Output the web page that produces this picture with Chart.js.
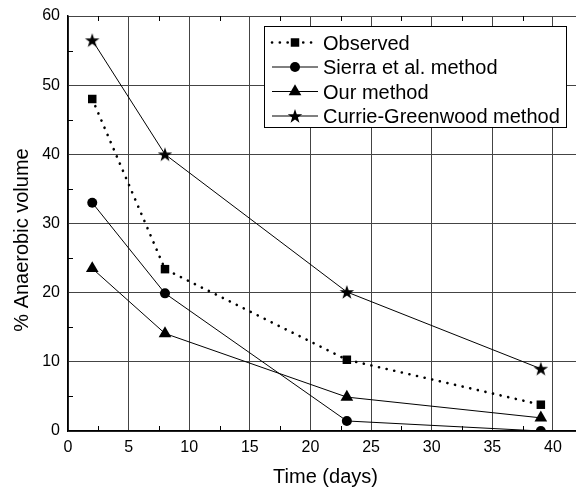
<!DOCTYPE html>
<html>
<head>
<meta charset="utf-8">
<script src="https://cdn.jsdelivr.net/npm/chart.js@4/dist/chart.umd.min.js"></script>
<style>
  html, body { margin: 0; padding: 0; background: #fff; }
  #wrap { width: 576px; height: 491px; }
</style>
</head>
<body>
<div id="wrap"><canvas id="chart" width="576" height="491"></canvas></div>
<script>
// values
const days = [2, 8, 23, 39];
const observed = [48, 23.4, 10.3, 3.8];
const sierra = [33, 19.9, 1.45, 0];
const ourMethod = [23.5, 14.1, 4.9, 1.9];
const currie = [56.5, 40, 20.1, 9];
const seriesNames = ['Observed', 'Sierra et al. method', 'Our method', 'Currie-Greenwood method'];

const xTicks = [0, 5, 10, 15, 20, 25, 30, 35, 40];
const yTicks = [0, 10, 20, 30, 40, 50, 60];
const xMinor = [2.5, 7.5, 12.5, 17.5, 22.5, 27.5, 32.5, 37.5];
const yMinor = [5, 15, 25, 35, 45, 55];
const xTitle = 'Time (days)';
const yTitle = '% Anaerobic volume';

const FONT = 'Liberation Sans, Arial, sans-serif';

// filled five point star used as point style
const starImg = (() => {
  const c = document.createElement('canvas');
  c.width = 16; c.height = 16;
  const g = c.getContext('2d');
  g.beginPath();
  for (let i = 0; i < 10; i++) {
    const r = i % 2 ? 3 : 7.6;
    const a = -Math.PI / 2 + i * Math.PI / 5;
    const px = 8 + r * Math.cos(a), py = 8.6 + r * Math.sin(a);
    if (i) g.lineTo(px, py); else g.moveTo(px, py);
  }
  g.closePath();
  g.fillStyle = '#000';
  g.fill();
  return c;
})();

const pts = vals => days.map((d, i) => ({ x: d, y: vals[i] }));

const base = {
  borderColor: '#000',
  backgroundColor: '#000',
  borderWidth: 1,
  pointBorderWidth: 0,
  tension: 0,
  clip: 0
};

const datasets = [
  Object.assign({}, base, {
    label: seriesNames[0], data: pts(observed),
    borderWidth: 2.6, borderDash: [0.1, 7.7], borderCapStyle: 'round',
    pointStyle: 'rect', pointRadius: 6
  }),
  Object.assign({}, base, {
    label: seriesNames[1], data: pts(sierra),
    pointStyle: 'circle', pointRadius: 5
  }),
  Object.assign({}, base, {
    label: seriesNames[2], data: pts(ourMethod),
    pointStyle: 'triangle', pointRadius: 7.3
  }),
  Object.assign({}, base, {
    label: seriesNames[3], data: pts(currie),
    pointStyle: starImg, pointRadius: 7
  })
];

const decor = {
  id: 'decor',
  beforeDatasetsDraw(chart) {
    // small minor ticks along the frame
    const { ctx, chartArea: a, scales: { x, y } } = chart;
    ctx.save();
    ctx.strokeStyle = '#000';
    ctx.lineWidth = 1;
    ctx.beginPath();
    xMinor.forEach(v => {
      const px = Math.round(x.getPixelForValue(v)) + 0.5;
      ctx.moveTo(px, a.bottom); ctx.lineTo(px, a.bottom - 5);
      ctx.moveTo(px, a.top); ctx.lineTo(px, a.top + 5);
    });
    yMinor.forEach(v => {
      const py = Math.round(y.getPixelForValue(v)) + 0.5;
      ctx.moveTo(a.left, py); ctx.lineTo(a.left + 5, py);
    });
    ctx.stroke();
    ctx.restore();
  },
  afterDraw(chart) {
    const { ctx } = chart;
    ctx.save();

    // legend box inside the plot, top right
    const bx = 264.5, by = 26.5, bw = 302, bh = 101;
    ctx.fillStyle = '#fff';
    ctx.fillRect(bx, by, bw, bh);
    ctx.strokeStyle = '#000';
    ctx.lineWidth = 1;
    ctx.strokeRect(bx, by, bw, bh);

    ctx.font = '20px ' + FONT;
    ctx.textBaseline = 'alphabetic';
    ctx.textAlign = 'left';
    chart.data.datasets.forEach((ds, i) => {
      const baseY = 49.5 + i * 24.5;
      const ly = baseY - 7;
      ctx.save();
      ctx.strokeStyle = '#000';
      ctx.lineWidth = ds.borderWidth;
      ctx.lineCap = ds.borderCapStyle || 'butt';
      ctx.setLineDash(ds.borderDash || []);
      ctx.beginPath();
      ctx.moveTo(272, ly);
      ctx.lineTo(318, ly);
      ctx.stroke();
      ctx.restore();
      ctx.fillStyle = '#000';
      Chart.helpers.drawPoint(ctx, {
        pointStyle: ds.pointStyle, radius: ds.pointRadius, borderWidth: 0, rotation: 0
      }, 295, ly);
      ctx.fillStyle = '#000';
      ctx.fillText(ds.label, 323, baseY);
    });

    // axis titles
    ctx.fillStyle = '#000';
    ctx.textAlign = 'center';
    ctx.fillText(xTitle, 325.5, 483);
    ctx.translate(27.5, 240);
    ctx.rotate(-Math.PI / 2);
    ctx.fillText(yTitle, 0, 0);
    ctx.restore();
  }
};

new Chart(document.getElementById('chart').getContext('2d'), {
  type: 'line',
  data: { datasets },
  plugins: [decor],
  options: {
    animation: false,
    responsive: false,
    events: [],
    layout: { autoPadding: false, padding: { top: 16, right: 0, bottom: 0, left: 0 } },
    plugins: { legend: { display: false }, tooltip: { enabled: false } },
    scales: {
      x: {
        type: 'linear',
        min: 0,
        max: 41.9,
        afterBuildTicks: s => { s.ticks = xTicks.map(v => ({ value: v })); },
        afterFit: s => { s.height = 60; s.paddingLeft = 0; s.paddingRight = 0; },
        grid: { color: '#444', lineWidth: 1, drawTicks: false },
        border: { color: '#000', width: 1.5 },
        ticks: { color: '#000', padding: 7, font: { family: FONT, size: 16 } }
      },
      y: {
        type: 'linear',
        min: 0,
        max: 60,
        afterBuildTicks: s => { s.ticks = yTicks.map(v => ({ value: v })); },
        afterFit: s => { s.width = 68; s.paddingTop = 0; s.paddingBottom = 0; },
        grid: { color: '#444', lineWidth: 1, drawTicks: false },
        border: { color: '#000', width: 1.5 },
        ticks: { color: '#000', padding: 8, font: { family: FONT, size: 16 } }
      }
    }
  }
});
</script>
</body>
</html>
